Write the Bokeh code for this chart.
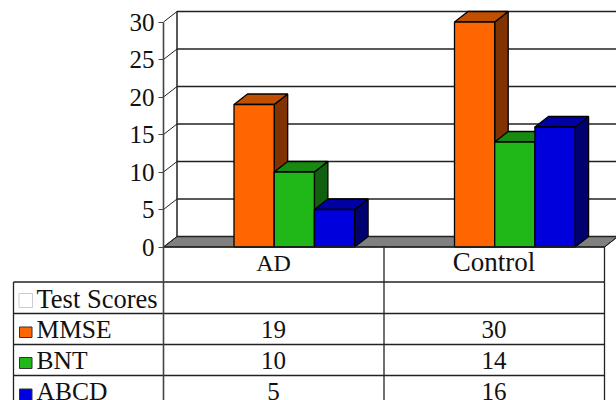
from bokeh.plotting import figure
from bokeh.models import LinearAxis, FixedTicker, Range1d
from bokeh.core.properties import value
from bokeh.embed import file_html
from bokeh.resources import INLINE

categories = ["AD", "Control"]
series_names = ["MMSE", "BNT", "ABCD"]
mmse = [19, 30]
bnt = [10, 14]
abcd = [5, 16]
tick_values = [0, 5, 10, 15, 20, 25, 30]
table_title = "Test Scores"

front_colors = ["#FF6600", "#20B818", "#0000DD"]
top_colors = ["#C05000", "#188A12", "#0000A5"]
side_colors = ["#803300", "#106010", "#00006E"]

FONT = "Liberation Serif"
INK = "#222222"
PX_CAT = 220.5
PX_VAL = 7.5
X0_PX = 273.0
Y0_PX = 246.5

def xc(px):
    return (px - X0_PX) / PX_CAT

def yc(py):
    return (Y0_PX - py) / PX_VAL

def yt(py, size):
    return yc(py - size / 3)

p = figure(width=616, height=400, output_backend="svg", toolbar_location=None,
           x_range=Range1d(xc(0), xc(616)), y_range=Range1d(yc(400), yc(0)),
           min_border=0, x_axis_type=None, y_axis_type=None, outline_line_color=None)
p.grid.visible = False
p.background_fill_color = "white"

DX = 13.5 / PX_CAT
DY = 10.5 / PX_VAL
BAR_W = 40.2 / PX_CAT
BAR_START = -39.5 / PX_CAT
AXIS_X = xc(163)
RIGHT_X = xc(604)
FAR_X = xc(640)

# floor
p.patch([AXIS_X, AXIS_X + DX, RIGHT_X + DX, RIGHT_X], [0, DY, DY, 0],
        fill_color="#808080", line_color=INK, line_width=1)

# back wall lines, depth lines
p.segment([AXIS_X + DX] * len(tick_values), [t + DY for t in tick_values],
          [FAR_X] * len(tick_values), [t + DY for t in tick_values],
          line_color=INK, line_width=1.5)
p.segment([AXIS_X] * len(tick_values), tick_values,
          [AXIS_X + DX] * len(tick_values), [t + DY for t in tick_values],
          line_color=INK, line_width=1)
p.segment([AXIS_X + DX], [0 + DY], [AXIS_X + DX], [tick_values[-1] + DY],
          line_color=INK, line_width=1.5)

# bars
for s, vals in enumerate([mmse, bnt, abcd]):
    for c, v in enumerate(vals):
        l = c + BAR_START + s * BAR_W
        r = l + BAR_W
        p.patch([r, r + DX, r + DX, r], [0, DY, v + DY, v],
                fill_color=side_colors[s], line_color="black", line_width=1.3)
        p.patch([l, l + DX, r + DX, r], [v, v + DY, v + DY, v],
                fill_color=top_colors[s], line_color="black", line_width=1.3)
        p.quad(left=[l], right=[r], bottom=[0], top=[v],
               fill_color=front_colors[s], line_color="black", line_width=1.3)

# table
row_py = [281.5, 313, 344, 375]
p.segment([xc(13)] * 4, [yc(y) for y in row_py], [xc(604)] * 4, [yc(y) for y in row_py],
          line_color=INK, line_width=1.3)
p.segment([AXIS_X], [0], [RIGHT_X], [0], line_color=INK, line_width=1.5)
p.segment([xc(13)], [yc(281.5)], [xc(13)], [yc(402)], line_color=INK, line_width=1.3)
p.segment([xc(383.5), xc(604)], [0, 0], [xc(383.5), xc(604)], [yc(402), yc(402)],
          line_color=INK, line_width=1.3)
p.segment([AXIS_X], [0], [AXIS_X], [yc(402)], line_color="#444444", line_width=1.6)
p.segment([RIGHT_X], [0], [RIGHT_X + DX], [DY], line_color=INK, line_width=1)

# category labels
for c, (name, size) in enumerate(zip(categories, [24, 27])):
    p.text(x=[c], y=[yt(270, size)], text=[name], text_font=value(FONT),
           text_font_size=f"{size}px", text_align="center", text_baseline="alphabetic",
           text_color="#111111")

# legend column
label_py = [337, 368, 399]
swatch_py = [(326.5, 337), (357, 368), (388.5, 400)]
p.quad(left=[xc(18.5)], right=[xc(32)], bottom=[yc(307)], top=[yc(293)],
       fill_color="white", line_color="#cccccc", line_width=1)
p.text(x=[xc(36)], y=[yt(307, 26.5)], text=[table_title], text_font=value(FONT),
       text_font_size="26.5px", text_baseline="alphabetic", text_color="#111111")
for s, vals in enumerate([mmse, bnt, abcd]):
    p.quad(left=[xc(19)], right=[xc(31.5)], bottom=[yc(swatch_py[s][1])], top=[yc(swatch_py[s][0])],
           fill_color=front_colors[s], line_color="#333333", line_width=1)
    p.text(x=[xc(36)], y=[yt(label_py[s], 25.5)], text=[series_names[s]], text_font=value(FONT),
           text_font_size="25.5px", text_baseline="alphabetic", text_color="#111111")
    p.text(x=[0, 1], y=[yt(label_py[s], 25)] * 2, text=[str(v) for v in vals], text_font=value(FONT),
           text_font_size="25px", text_align="center", text_baseline="alphabetic", text_color="#111111")

# value axis
axis = LinearAxis(fixed_location=AXIS_X, ticker=FixedTicker(ticks=tick_values),
                  bounds=(0, 30),
                  major_label_text_font=FONT, major_label_text_font_size="25px",
                  major_label_text_color="#111111", major_label_standoff=4,
                  axis_line_color="#444444", axis_line_width=1.6,
                  major_tick_line_color="#444444", major_tick_line_width=1.2,
                  major_tick_in=0, major_tick_out=5, minor_tick_line_color=None)
p.add_layout(axis, "left")

open("out.html", "w").write(file_html(p, INLINE))
